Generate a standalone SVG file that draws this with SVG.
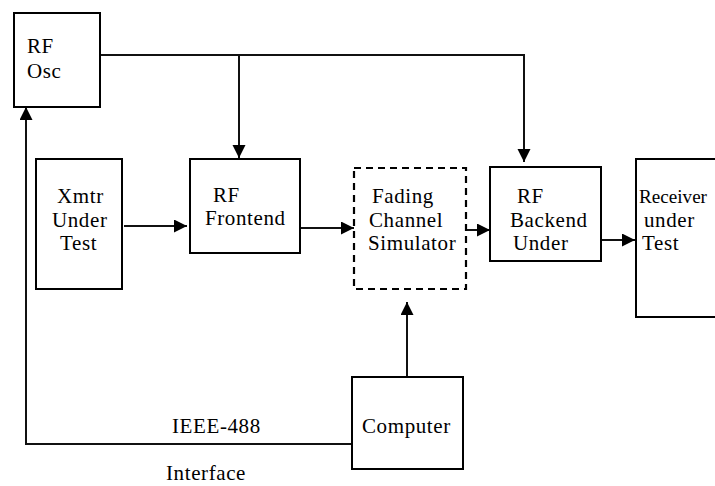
<svg xmlns="http://www.w3.org/2000/svg" width="715" height="486" viewBox="0 0 715 486">
<defs>
<style>
.box{fill:#fff;stroke:#000;stroke-width:2}
.dash{fill:#fff;stroke:#000;stroke-width:2.2;stroke-dasharray:7 5}
.ln{fill:none;stroke:#111;stroke-width:2}
text{font-family:'Liberation Serif','DejaVu Serif','Times New Roman',serif;font-size:21px;letter-spacing:0.6px;fill:#000}
</style>
<marker id="ah" markerUnits="userSpaceOnUse" markerWidth="14" markerHeight="14" refX="13" refY="6.5" orient="auto">
<path d="M0,0 L13,6.5 L0,13 z" fill="#000"/>
</marker>
</defs>
<rect width="715" height="486" fill="#fff"/>
<g id="connectors">
<path class="ln" d="M100,55 H524 V162" marker-end="url(#ah)"/>
<path class="ln" d="M239,55 V158" stroke="#444" marker-end="url(#ah)"/>
<path class="ln" d="M124,226 H187" marker-end="url(#ah)"/>
<path class="ln" d="M300,228 H354" marker-end="url(#ah)"/>
<path class="ln" d="M466,230 H490" marker-end="url(#ah)"/>
<path class="ln" d="M601,240 H635" marker-end="url(#ah)"/>
<path class="ln" d="M407,377 V302" marker-end="url(#ah)"/>
<path class="ln" d="M352,444 H26 V107" marker-end="url(#ah)"/>
<text x="172" y="433">IEEE-488</text>
<text x="166" y="480">Interface</text>
</g>
<g id="rfosc">
<rect class="box" x="14" y="13" width="86" height="94"/>
<text x="27" y="53">RF</text>
<text x="27" y="78">Osc</text>
</g>
<g id="xmtr">
<rect class="box" x="36" y="159" width="86" height="130"/>
<text x="57" y="203">Xmtr</text>
<text x="52" y="227">Under</text>
<text x="60" y="250">Test</text>
</g>
<g id="frontend">
<rect class="box" x="190" y="159" width="110" height="94"/>
<text x="213" y="202">RF</text>
<text x="205" y="225">Frontend</text>
</g>
<g id="fading">
<rect class="dash" x="354" y="168" width="112" height="121"/>
<text x="372" y="203">Fading</text>
<text x="369" y="227">Channel</text>
<text x="368" y="250">Simulator</text>
</g>
<g id="backend">
<rect class="box" x="490" y="167" width="111" height="94"/>
<text x="517" y="203">RF</text>
<text x="510" y="227">Backend</text>
<text x="513" y="250">Under</text>
</g>
<g id="receiver">
<rect class="box" x="636" y="159" width="90" height="158"/>
<text x="639" y="203" style="font-size:19px;letter-spacing:0" textLength="68" lengthAdjust="spacingAndGlyphs">Receiver</text>
<text x="644" y="227">under</text>
<text x="642" y="250">Test</text>
</g>
<g id="computer">
<rect class="box" x="352" y="377" width="111" height="92"/>
<text x="362" y="433">Computer</text>
</g>
</svg>
